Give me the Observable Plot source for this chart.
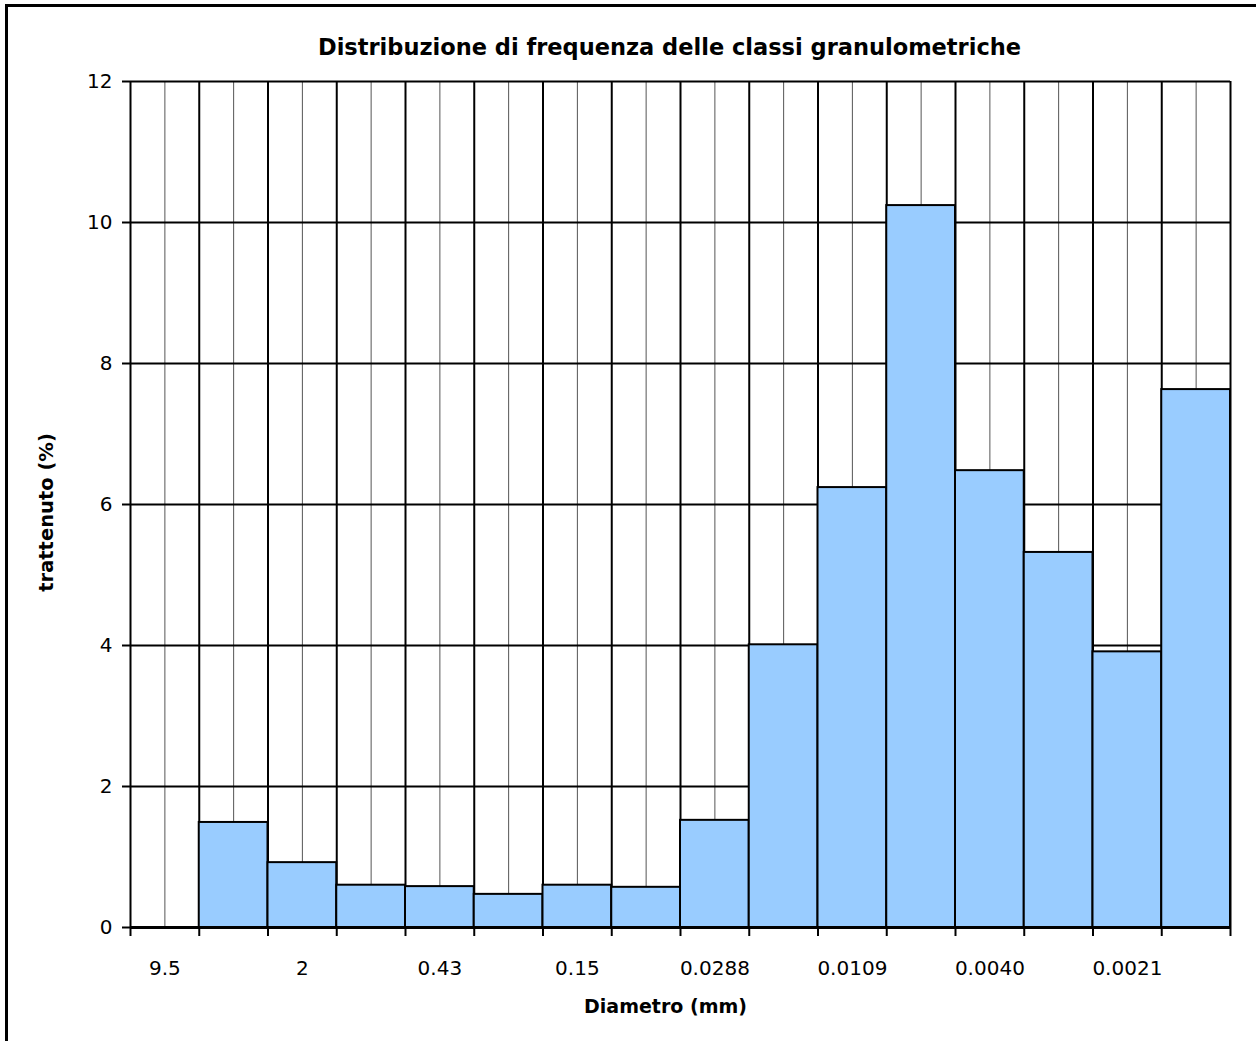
<!DOCTYPE html>
<html><head><meta charset="utf-8">
<script src="https://cdn.jsdelivr.net/npm/d3@7"></script>
<script src="https://cdn.jsdelivr.net/npm/@observablehq/plot@0.6"></script>
<style>
html,body{margin:0;padding:0;background:#fff;overflow:hidden;}
#wrap{position:relative;width:1256px;height:1041px;overflow:hidden;}
#box{position:absolute;left:5px;top:4px;width:1300px;height:1100px;border:3px solid #000;box-sizing:border-box;pointer-events:none;}
#chart{position:absolute;left:0;top:0;}
svg{font-family:"DejaVu Sans",sans-serif;}
</style></head>
<body><div id="wrap"><div id="box"></div><div id="chart"></div></div>
<script>
const diameters = ["9.5","","2","","0.43","","0.15","","0.0288","","0.0109","","0.0040","","0.0021",""];
const retained = [0, 1.49, 0.92, 0.60, 0.58, 0.47, 0.60, 0.57, 1.52, 4.01, 6.24, 10.24, 6.48, 5.32, 3.91, 7.63];
const yTicks = [0, 2, 4, 6, 8, 10, 12];
const title = "Distribuzione di frequenza delle classi granulometriche";
const xLabel = "Diametro (mm)";
const yLabel = "trattenuto (%)";

const rows = retained.map((v, i) => ({i, v, label: diameters[i]}));
const n = rows.length;
const edges = d3.range(n + 1);
const centers = d3.range(n).map(i => i + 0.5);

const chart = Plot.plot({
  width: 1256, height: 1041,
  marginLeft: 130, marginRight: 26, marginTop: 81, marginBottom: 114,
  x: {domain: [0, n], axis: null},
  y: {domain: [0, 12], axis: null},
  marks: [
    Plot.ruleX(centers, {stroke: "#555", strokeWidth: 1}),
    Plot.ruleX(edges, {stroke: "#000", strokeWidth: 2}),
    Plot.ruleY(yTicks.filter(d => d > 0), {stroke: "#000", strokeWidth: 2}),
    Plot.rectY(rows.filter(d => d.v > 0), {x1: d => d.i, x2: d => d.i + 1, y: "v", fill: "#99CCFF", stroke: "#000", strokeWidth: 2, inset: 0}),
    Plot.ruleY([0], {stroke: "#000", strokeWidth: 3}),
    Plot.axisX({ticks: edges, tickFormat: () => "", tickSize: 9, strokeWidth: 2, label: null}),
    Plot.axisY({ticks: yTicks, tickSize: 8, tickPadding: 10, fontSize: 20, strokeWidth: 2, label: null, fill: "#000"}),
    Plot.text(rows.filter(d => d.label !== ""), {x: d => d.i + 0.5, y: 0, text: "label", dy: 41, fontSize: 20, fill: "#000"}),
    Plot.text([xLabel], {frameAnchor: "bottom", lineAnchor: "middle", dx: -15, dy: 79, fontSize: 19, fontWeight: "bold", fill: "#000"}),
    Plot.text([yLabel], {frameAnchor: "left", textAnchor: "middle", lineAnchor: "middle", dx: -84, dy: 8, rotate: -90, fontSize: 19.5, fontWeight: "bold", fill: "#000"}),
    Plot.text([title], {frameAnchor: "top", lineAnchor: "middle", dx: -11, dy: -34, fontSize: 22.5, fontWeight: "bold", fill: "#000"})
  ]
});
document.getElementById("chart").appendChild(chart);
</script>
</body></html>
